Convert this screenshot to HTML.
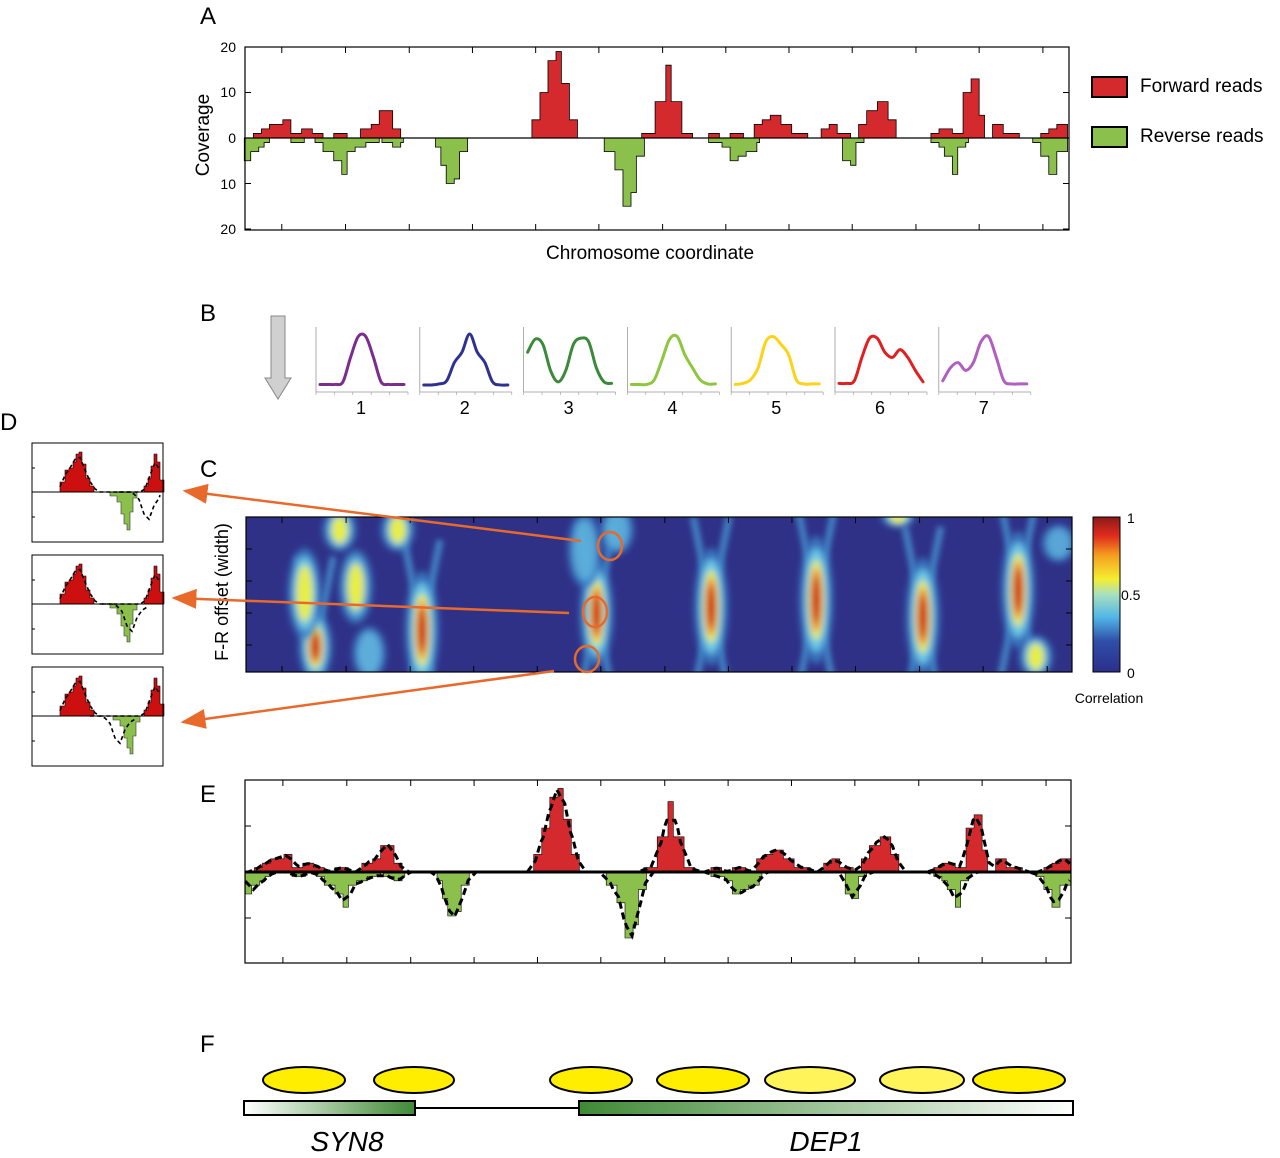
<!DOCTYPE html>
<html><head><meta charset="utf-8">
<style>
html,body{margin:0;padding:0;background:#fff;}
svg{display:block;font-family:"Liberation Sans",sans-serif;}
</style></head>
<body>
<svg id="fig" width="1280" height="1158" viewBox="0 0 1280 1158" xmlns="http://www.w3.org/2000/svg">
<defs>
<filter id="blur" x="-80%" y="-50%" width="260%" height="200%"><feGaussianBlur stdDeviation="3.5"/></filter>
<filter id="blur2" x="-50%" y="-50%" width="200%" height="200%"><feGaussianBlur stdDeviation="3"/></filter>
<clipPath id="hmclip"><rect x="246" y="517" width="826" height="155"/></clipPath>
<linearGradient id="jet" x1="0" y1="1" x2="0" y2="0">
<stop offset="0" stop-color="#2b2f8a"/><stop offset="0.2" stop-color="#2f4fa8"/><stop offset="0.35" stop-color="#4fb5e6"/><stop offset="0.5" stop-color="#a8e0c0"/><stop offset="0.6" stop-color="#f5ee30"/><stop offset="0.75" stop-color="#f5a020"/><stop offset="0.88" stop-color="#e02a1c"/><stop offset="1" stop-color="#8b1a1a"/>
</linearGradient>
<linearGradient id="g1" x1="0" x2="1"><stop offset="0" stop-color="#fff"/><stop offset="1" stop-color="#3f8a35"/></linearGradient>
<linearGradient id="g2" x1="0" x2="1"><stop offset="0" stop-color="#3f8a35"/><stop offset="1" stop-color="#fff"/></linearGradient>
<marker id="arr" markerWidth="10" markerHeight="8" refX="9" refY="4" orient="auto"><path d="M0,0 L10,4 L0,8 Z" fill="#e8692a"/></marker>
</defs>

<text x="200" y="24" font-size="24">A</text>
<text x="200" y="321" font-size="24">B</text>
<text x="200" y="477" font-size="24">C</text>
<text x="0" y="430" font-size="24">D</text>
<text x="200" y="802" font-size="24">E</text>
<text x="200" y="1052" font-size="24">F</text>

<g id="panelA"></g>
<g font-size="14" text-anchor="end">
<text x="236" y="52">20</text><text x="236" y="97">10</text><text x="236" y="143">0</text><text x="236" y="189">10</text><text x="236" y="234">20</text>
</g>
<text transform="translate(209,135) rotate(-90)" font-size="19" text-anchor="middle">Coverage</text>
<text x="650" y="259" font-size="19" text-anchor="middle">Chromosome coordinate</text>
<g>
<g><rect x="1092" y="77" width="35" height="20" fill="#d42a2e" stroke="#000" stroke-width="2"/><text x="1140" y="92" font-size="19">Forward reads</text></g>
<g><rect x="1092" y="127" width="35" height="20" fill="#8cc04d" stroke="#000" stroke-width="2"/><text x="1140" y="142" font-size="19">Reverse reads</text></g>
</g>

<g>
<path d="M271,316 H285 V378 H291 L278,399 L265,378 H271 Z" fill="#d0d0d0" stroke="#888" stroke-width="1"/>
</g>
<g id="panelB"></g>

<g id="panelC"></g>
<text transform="translate(228,592) rotate(-90)" font-size="18" text-anchor="middle">F-R offset (width)</text>
<rect x="1093" y="517" width="27" height="155" fill="url(#jet)" stroke="#000" stroke-width="1"/>
<g font-size="14">
<text x="1127" y="523">1</text><text x="1121" y="600">0.5</text><text x="1127" y="678">0</text>
<text x="1109" y="703" text-anchor="middle">Correlation</text>
</g>

<g id="panelD"></g>

<g stroke="#e8692a" stroke-width="2.5" fill="none">
<line x1="581" y1="541" x2="185" y2="491" marker-end="url(#arr)"/>
<line x1="569" y1="613" x2="174" y2="598" marker-end="url(#arr)"/>
<line x1="554" y1="671" x2="183" y2="722" marker-end="url(#arr)"/>
<ellipse cx="610" cy="546" rx="12" ry="14"/>
<ellipse cx="595" cy="612" rx="12" ry="15"/>
<ellipse cx="587" cy="659" rx="12" ry="13"/>
</g>

<g id="panelE"></g>

<g>
<rect x="244" y="1101" width="171" height="14" fill="url(#g1)" stroke="#000" stroke-width="2"/>
<line x1="415" y1="1108" x2="579" y2="1108" stroke="#000" stroke-width="2"/>
<rect x="579" y="1101" width="494" height="14" fill="url(#g2)" stroke="#000" stroke-width="2"/>
<text x="347" y="1151" font-size="28" font-style="italic" text-anchor="middle">SYN8</text>
<text x="826" y="1151" font-size="28" font-style="italic" text-anchor="middle">DEP1</text>
<g id="nucs"></g>
</g>
</svg>
<script>
const fwdX=[8,25,40,55,80,95,115,135,155,175,200,225,245,260,285,300,545,560,575,590,600,615,630,750,775,795,805,825,845,875,895,915,940,960,975,990,1010,1030,1060,1085,1100,1115,1140,1155,1170,1190,1210,1225,1290,1305,1330,1350,1365,1380,1390,1405,1425,1455,1495,1510,1525,1545];
const fwdV=[0,1,2,3,4,1,2,1,0,1,0,2,3,6,2,0,4,10,17,19,12,4,0,1,8,16,8,1,0,1,0,1,0,3,4,5,3,1,0,2,3,1,0,3,6,8,4,0,1,2,1,10,13,5,0,3,1,0,1,2,3];
const revX=[8,20,35,45,55,95,120,140,155,175,190,200,215,235,260,265,285,300,305,365,375,385,400,410,425,680,700,715,730,740,755,875,900,915,930,945,965,970,1125,1140,1150,1165,1290,1305,1315,1330,1340,1355,1360,1480,1495,1510,1525,1545];
const revV=[5,3,2,1,0,1,0,1,3,5,8,3,2,1,0,1,2,1,0,2,6,10,9,3,0,3,7,15,12,4,0,1,2,5,4,3,1,0,5,6,1,0,1,2,4,8,2,1,0,1,4,8,3];
const yTicksA=[20,10,0,10,20];
const clusterLabels=["1","2","3","4","5","6","7"];
const clusterColors=["#7b2d8e","#2e3192","#3a8a3a","#8dc63f","#ffd21a","#e02020","#b05fc0"];
const profile1=[0.03,0.03,0.03,0.08,0.55,0.95,0.95,0.55,0.08,0.03,0.03,0.03];
const profile2=[0.02,0.02,0.04,0.1,0.45,0.65,1,0.65,0.45,0.08,0.02,0.02];
const profile3=[0.65,0.9,0.8,0.3,0.08,0.3,0.8,0.92,0.85,0.35,0.08,0.05];
const profile4=[0.03,0.03,0.03,0.12,0.5,0.9,0.95,0.6,0.35,0.12,0.04,0.04];
const profile5=[0.03,0.05,0.12,0.35,0.85,0.95,0.8,0.6,0.12,0.04,0.04,0.04];
const profile6=[0.05,0.05,0.1,0.55,0.92,0.92,0.65,0.55,0.7,0.55,0.3,0.08];
const profile7=[0.1,0.35,0.45,0.3,0.45,0.85,0.95,0.55,0.1,0.04,0.04,0.04];
const blobPos=[140,120,185,215,240,293,338,662,875,1070,1268,1222,1445,1478,640,700,1520];
const blobOffset=[410,250,60,230,430,60,360,310,290,270,320,20,240,440,120,60,100];
const blobLen=[130,170,80,140,100,80,220,200,220,240,220,40,220,80,140,90,70];
const blobPeak=[1.0,0.65,0.6,0.5,0.4,0.55,1.0,1.0,1.0,0.95,1.0,0.7,1.0,0.6,0.35,0.35,0.3];
const dFwdX=[28,33,37,41,44,47,50,54,58,62,112,116,119,122,125,128,132];
const dFwdV=[10,22,24,30,38,40,28,14,6,0,6,14,26,38,30,12];
const dRevX=[78,85,89,92,95,98,101,105];
const dRevV=[4,10,22,32,38,20,6];
const dShift=[17,0,-12];
const dRevShift=[0,0,3];
const nucX=[304,414,591,703,810,922,1019];
const nucW=[41,40,41,46,45,42,46];
const nucFill=["#ffee00","#ffee00","#ffee00","#ffee00","#fff45a","#fff45a","#ffee00"];

const NS="http://www.w3.org/2000/svg";
function mk(tag,attrs,parent){const e=document.createElementNS(NS,tag);for(const k in attrs)e.setAttribute(k,attrs[k]);parent.appendChild(e);return e;}
const xA=z=>240+z/1.867;
function stepPath(xs,vs,xf,yf){
  let d="M"+xf(xs[0])+","+yf(0);
  const n=Math.min(vs.length,xs.length-1);
  for(let i=0;i<n;i++){d+=" L"+xf(xs[i])+","+yf(vs[i])+" L"+xf(xs[i+1])+","+yf(vs[i]);}
  d+=" L"+xf(xs[n])+","+yf(0)+" Z";return d;
}
function valueAt(xs,vs,x){for(let i=0;i<vs.length&&i<xs.length-1;i++){if(x>=xs[i]&&x<xs[i+1])return vs[i];}return 0;}
function smoothPath(xs,vs,xf,yf,win){
  let pts=[];
  for(let x=xs[0];x<=xs[xs.length-1];x+=5){
    let s=0,c=0;for(let t=x-win;t<=x+win;t+=5){s+=valueAt(xs,vs,t);c++;}
    pts.push(xf(x).toFixed(1)+","+yf(s/c*1.05).toFixed(1));
  }
  return "M"+pts.join(" L");
}
function frame(g,x,y,w,h,ticksX,ticksY,name){
  const r=mk("rect",{x:x,y:y,width:w,height:h,fill:"none",stroke:"#000","stroke-width":1.2},g);
  
  
  ticksX.forEach(t=>{mk("line",{x1:t,y1:y,x2:t,y2:y+6,stroke:"#000"},g);mk("line",{x1:t,y1:y+h,x2:t,y2:y+h-6,stroke:"#000"},g);});
  ticksY.forEach(t=>{mk("line",{x1:x,y1:t,x2:x+6,y2:t,stroke:"#000"},g);mk("line",{x1:x+w,y1:t,x2:x+w-6,y2:t,stroke:"#000"},g);});
}
const xTickZ=[78,197,316,434,552,670,789,907,1025,1143,1262,1380,1499];

(function(){
  const g=document.getElementById("panelA");
  const yf=v=>138-v*4.55, yr=v=>138+v*4.55;
  const f=mk("path",{d:stepPath(fwdX,fwdV,xA,yf),fill:"#d42a2e",stroke:"#000","stroke-width":0.8},g);
  
  
  const r=mk("path",{d:stepPath(revX,revV,xA,yr),fill:"#8cc04d",stroke:"#000","stroke-width":0.8},g);
  
  
  mk("line",{x1:245,y1:138,x2:1069,y2:138,stroke:"#000","stroke-width":1.2},g);
  frame(g,245,47,824,183,xTickZ.map(xA),yTicksA.map((v,i)=>47+i*45.5),"coverage-plot-frame");
})();

(function(){
  const g=document.getElementById("panelB");
  const profs=[profile1,profile2,profile3,profile4,profile5,profile6,profile7];
  profs.forEach((p,i)=>{
    const x0=316+i*103.8, y0=392, w=92, h=60;
    const sg=mk("g",{},g);
    
    
    mk("line",{x1:x0,y1:y0-65,x2:x0,y2:y0,stroke:"#999","stroke-width":0.8},sg);
    mk("line",{x1:x0,y1:y0,x2:x0+w,y2:y0,stroke:"#999","stroke-width":0.8},sg);
    for(let k=0;k<6;k++){mk("line",{x1:x0+k*w/5,y1:y0,x2:x0+k*w/5,y2:y0+3,stroke:"#999","stroke-width":0.6},sg);}
    const pts=p.map((v,k)=>[x0+4+k*(w-8)/(p.length-1),y0-6-v*(h-8)]);
    let d="M"+pts[0][0]+","+pts[0][1];
    for(let k=0;k<pts.length-1;k++){
      const p0=pts[Math.max(0,k-1)],p1=pts[k],p2=pts[k+1],p3=pts[Math.min(pts.length-1,k+2)];
      d+=" C"+(p1[0]+(p2[0]-p0[0])/6)+","+(p1[1]+(p2[1]-p0[1])/6)+" "+(p2[0]-(p3[0]-p1[0])/6)+","+(p2[1]-(p3[1]-p1[1])/6)+" "+p2[0]+","+p2[1];
    }
    mk("path",{d:d,fill:"none",stroke:clusterColors[i],"stroke-width":3,"stroke-linecap":"round"},sg);
    const t=mk("text",{x:x0+45,y:414,"font-size":18,"text-anchor":"middle"},sg);t.textContent=clusterLabels[i];
  });
})();

(function(){
  const g=document.getElementById("panelC");
  mk("rect",{x:246,y:517,width:826,height:155,fill:"#2f3187"},g);
  const hg=mk("g",{"clip-path":"url(#hmclip)"},g);
  const xf=z=>240+z/1.857, yf=z=>510+z/3;
  // faint diagonal ridges around strong blobs
  const sg=mk("g",{filter:"url(#blur2)",opacity:0.75},hg);
  blobPos.forEach((bx,i)=>{
    if(blobPeak[i]<0.9)return;
    const cx=xf(bx), cy=yf(blobOffset[i]);
    mk("line",{x1:cx-18,y1:cy-90,x2:cx+18,y2:cy+90,stroke:"#4a9fd8","stroke-width":7},sg);
    mk("line",{x1:cx+18,y1:cy-90,x2:cx-18,y2:cy+90,stroke:"#4a9fd8","stroke-width":7},sg);
  });
  blobPos.forEach((bx,i)=>{
    const cx=xf(bx), cy=yf(blobOffset[i]), ry=blobLen[i]/3/2, pk=blobPeak[i];
    const b=mk("g",{filter:"url(#blur)"},hg);
    
    
    mk("ellipse",{cx:cx,cy:cy,rx:17,ry:ry*1.6,fill:"#3b7cc4",opacity:0.85},b);
    mk("ellipse",{cx:cx,cy:cy,rx:12,ry:ry*1.3,fill:"#6cc8e8",opacity:Math.min(1,pk+0.3)},b);
    if(pk>=0.5)mk("ellipse",{cx:cx,cy:cy,rx:8,ry:ry*1.0,fill:"#e8ee40"},b);
    if(pk>=0.8){mk("ellipse",{cx:cx,cy:cy,rx:6,ry:ry*0.8,fill:"#f08a20"},b);mk("ellipse",{cx:cx,cy:cy,rx:4,ry:ry*0.6,fill:"#c8201a"},b);}
  });
  frame(g,246,517,826,155,xTickZ.map(xf),[549,581,613,645],"heatmap-frame");
})();

(function(){
  const g=document.getElementById("panelD");
  [443,555,667].forEach((y0,i)=>{
    const sg=mk("g",{},g);
    
    
    const zy=y0+49, x0=32;
    const xf=v=>x0+v, yf=v=>zy-v, yr=v=>zy+v;
    mk("path",{d:stepPath(dFwdX,dFwdV,xf,yf),fill:"#cc1010",stroke:"#000","stroke-width":0.6},sg);
    const rx=v=>x0+v+dRevShift[i];
    mk("path",{d:stepPath(dRevX,dRevV,rx,yr),fill:"#8cc04d",stroke:"#333","stroke-width":0.6},sg);
    mk("line",{x1:x0,y1:zy,x2:x0+131,y2:zy,stroke:"#000","stroke-width":1},sg);
    mk("path",{d:smoothPath(dFwdX,dFwdV,xf,yf,3),fill:"none",stroke:"#000","stroke-width":1.6,"stroke-dasharray":"4,3"},sg);
    const sx=v=>Math.min(x0+128,x0+v+dShift[i]);
    mk("path",{d:smoothPath([70].concat(dRevX.slice(1)).concat([116]),[0].concat(dRevV).concat([0]),sx,yr,4),fill:"none",stroke:"#000","stroke-width":1.6,"stroke-dasharray":"4,3"},sg);
    mk("rect",{x:x0,y:y0,width:131,height:99,fill:"none",stroke:"#000","stroke-width":1},sg);
    [y0+25,y0+74].forEach(t=>mk("line",{x1:x0,y1:t,x2:x0+3,y2:t,stroke:"#000"},sg));
  });
})();

(function(){
  const g=document.getElementById("panelE");
  const xE=z=>241+z/1.862;
  const yf=v=>872-v*4.4, yr=v=>872+v*4.4;
  const f=mk("path",{d:stepPath(fwdX,fwdV,xE,yf),fill:"#d42a2e",stroke:"#000","stroke-width":0.6},g);
  
  
  const r=mk("path",{d:stepPath(revX,revV,xE,yr),fill:"#8cc04d",stroke:"#000","stroke-width":0.6},g);
  
  
  const df=mk("path",{d:smoothPath(fwdX,fwdV,xE,yf,12),fill:"none",stroke:"#000","stroke-width":3,"stroke-dasharray":"7,4"},g);
  
  
  const dr=mk("path",{d:smoothPath(revX,revV,xE,yr,12),fill:"none",stroke:"#000","stroke-width":3,"stroke-dasharray":"7,4"},g);
  
  
  mk("line",{x1:245,y1:872,x2:1071,y2:872,stroke:"#000","stroke-width":3},g);
  frame(g,245,780,826,183,xTickZ.map(xE),[826,918],"fitted-plot-frame");
})();

(function(){
  const g=document.getElementById("nucs");
  nucX.forEach((x,i)=>{
    const e=mk("ellipse",{cx:x,cy:1080,rx:nucW[i],ry:13,fill:nucFill[i],stroke:"#000","stroke-width":2},g);
    
    
  });
})();
</script>
</body></html>
